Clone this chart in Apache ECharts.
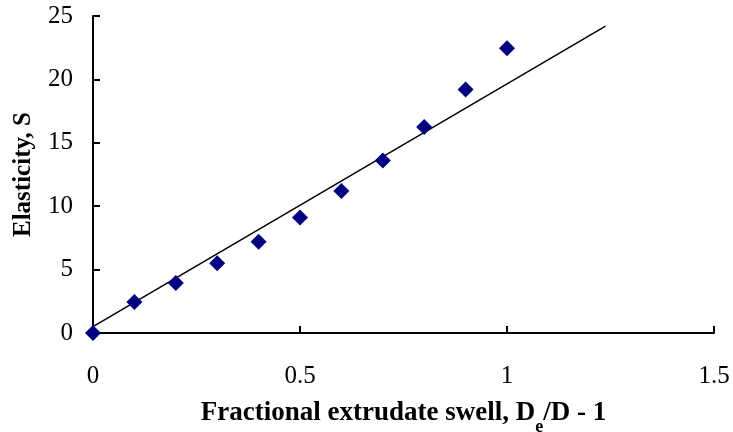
<!DOCTYPE html>
<html><head><meta charset="utf-8">
<script src="https://cdn.jsdelivr.net/npm/echarts@6/dist/echarts.min.js"></script>
<style>html,body{margin:0;padding:0;background:#fff}#c{width:733px;height:432px}</style>
</head><body><div id="c"></div>
<script>
const swellX = [0, 0.1, 0.2, 0.3, 0.4, 0.5, 0.6, 0.7, 0.8, 0.9, 1.0];
const elasticityY = [0, 2.45, 3.95, 5.5, 7.2, 9.1, 11.2, 13.6, 16.25, 19.2, 22.45];
const trendX = [0, 1.238];
const trendY = [0.5, 24.2];
const xTicks = [0, 0.5, 1, 1.5];
const yTicks = [0, 5, 10, 15, 20, 25];

const font = 'Liberation Serif';
const chart = echarts.init(document.getElementById('c'));
chart.setOption({
  animation: false,
  backgroundColor: '#fff',
  grid: {left: 93, right: 19, top: 16, bottom: 99, containLabel: false, outerBoundsMode: 'none'},
  xAxis: {
    type: 'value', min: 0, max: 1.5, interval: 0.5,
    axisLine: {lineStyle: {color: '#000', width: 2}},
    axisTick: {show: true, inside: true, length: 7, lineStyle: {color: '#000', width: 2}},
    splitLine: {show: false},
    axisLabel: {color: '#000', fontFamily: font, fontSize: 25, margin: 31,
      formatter: v => String(v)},
    name: '{b|Fractional extrudate swell, D}{s|e}{b|/D - 1}',
    nameLocation: 'middle', nameGap: 67,
    nameTextStyle: {rich: {
      b: {fontFamily: font, fontWeight: 'bold', fontSize: 27, color: '#000'},
      s: {fontFamily: font, fontWeight: 'bold', fontSize: 18, color: '#000', verticalAlign: 'bottom', padding: [0,0,-9,0]}
    }}
  },
  yAxis: {
    type: 'value', min: 0, max: 25, interval: 5,
    axisLine: {lineStyle: {color: '#000', width: 2}},
    axisTick: {show: true, inside: true, length: 7, lineStyle: {color: '#000', width: 2}},
    splitLine: {show: false},
    axisLabel: {color: '#000', fontFamily: font, fontSize: 25, margin: 20},
    name: 'Elasticity, S', nameLocation: 'middle', nameGap: 57,
    nameTextStyle: {fontFamily: font, fontWeight: 'bold', fontSize: 25, color: '#000'}
  },
  series: [
    {type: 'line', data: trendX.map((x, i) => [x, trendY[i]]), symbol: 'none',
     lineStyle: {color: '#000', width: 1.5}, z: 2},
    {type: 'scatter', data: swellX.map((x, i) => [x, elasticityY[i]]),
     symbol: 'diamond', symbolSize: [16, 16], itemStyle: {color: '#000080', opacity: 1}, z: 3}
  ]
});
</script></body></html>
